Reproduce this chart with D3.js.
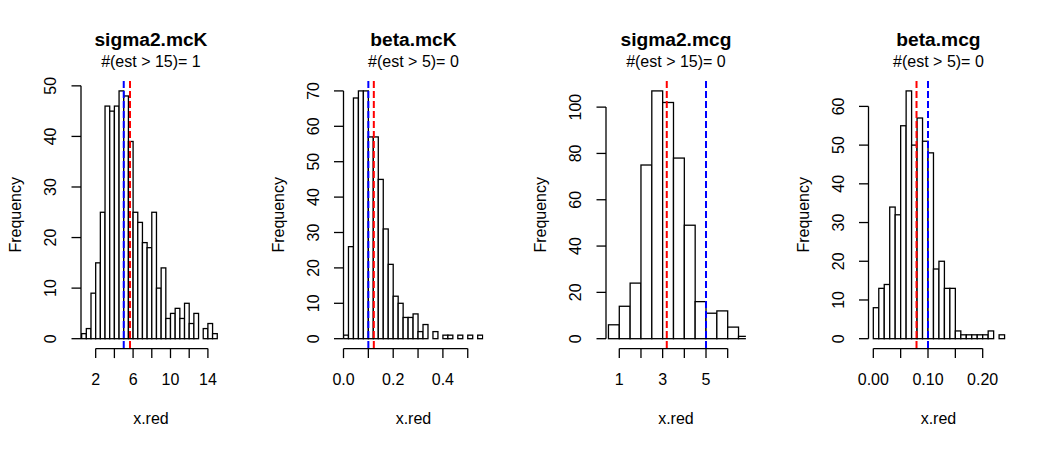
<!DOCTYPE html>
<html>
<head>
<meta charset="utf-8">
<script src="https://cdn.jsdelivr.net/npm/d3@7"></script>
<style>
  body { margin: 0; background: #fff; }
  text { font-family: "Liberation Sans", Arial, sans-serif; fill: #000; }
</style>
</head>
<body>
<div id="chart"></div>
<script>
// panel titles and the "#(est > k)= n" notes
var titles = ["sigma2.mcK", "beta.mcK", "sigma2.mcg", "beta.mcg"];
var cutoffs = [15, 5, 15, 5];
var overCutoff = [1, 0, 0, 0];

// histogram bins: first break, bin width, counts
var binStarts = [0.5, 0, 0.5, 0];
var binWidths = [0.5, 0.02, 0.5, 0.01];
var countsSigma2McK = [1, 2, 9, 15, 25, 46, 45, 46, 49, 48, 39, 25, 23, 19, 18, 25, 10, 14, 4, 5, 6, 4, 7, 3, 5, 0, 2, 3, 1];
var countsBetaMcK = [1, 26, 68, 70, 70, 57, 57, 45, 31, 21, 12, 10, 6, 6, 7, 2, 4, 0, 2, 0, 1, 1, 0, 1, 0, 1, 0, 1];
var countsSigma2Mcg = [6, 14, 24, 75, 107, 102, 78, 49, 16, 11, 12, 5, 1];
var countsBetaMcg = [8, 13, 14, 34, 32, 55, 64, 50, 57, 51, 48, 18, 20, 13, 13, 2, 1, 1, 1, 1, 1, 2, 0, 1];
var allCounts = [countsSigma2McK, countsBetaMcK, countsSigma2Mcg, countsBetaMcg];

// reference lines: blue = true value, red = mean estimate
var trueValues = [5, 0.1, 5, 0.1];
var meanValues = [5.67, 0.122, 3.19, 0.079];

// axes
var xTicks = [
  [2, 4, 6, 8, 10, 12, 14],
  [0, 0.1, 0.2, 0.3, 0.4, 0.5],
  [1, 2, 3, 4, 5, 6],
  [0, 0.05, 0.1, 0.15, 0.2]
];
var xTickLabels = [
  ["2", "6", "10", "14"],
  ["0.0", "0.2", "0.4"],
  ["1", "3", "5"],
  ["0.00", "0.10", "0.20"]
];
var xLabelAt = [
  [2, 6, 10, 14],
  [0, 0.2, 0.4],
  [1, 3, 5],
  [0, 0.1, 0.2]
];
var yTicks = [
  [0, 10, 20, 30, 40, 50],
  [0, 10, 20, 30, 40, 50, 60, 70],
  [0, 20, 40, 60, 80, 100],
  [0, 10, 20, 30, 40, 50, 60]
];
// user x limits of each plot region
var xLims = [[0.43, 15.39], [0.0, 0.563], [0.387, 6.84], [-0.0088, 0.247]];

var W = 1050, H = 450;
var panelW = W / 4,
    plotOff = 81, plotW = 139.9,
    plotTop = 81, plotBottom = 348.6,
    tickLen = 9.5;

var svg = d3.select("#chart").append("svg")
    .attr("width", W)
    .attr("height", H);

var defs = svg.append("defs");

titles.forEach(function(title, i) {
    var left = i * panelW + plotOff,
        right = left + plotW,
        cx = (left + right) / 2,
        counts = allCounts[i],
        maxC = d3.max(counts);

    var x = d3.scaleLinear().domain(xLims[i]).range([left, right]);
    var y = d3.scaleLinear().domain([-0.04 * maxC, 1.04 * maxC]).range([plotBottom, plotTop]);

    defs.append("clipPath")
        .attr("id", "clip" + i)
        .append("rect")
        .attr("x", left)
        .attr("y", plotTop)
        .attr("width", plotW)
        .attr("height", plotBottom - plotTop);

    var g = svg.append("g");

    var bins = counts.map(function(c, k) {
        return {x0: binStarts[i] + k * binWidths[i], x1: binStarts[i] + (k + 1) * binWidths[i], n: c};
    });

    g.append("g")
        .attr("clip-path", "url(#clip" + i + ")")
        .selectAll("rect")
        .data(bins)
        .enter().append("rect")
        .attr("x", function(d) { return x(d.x0); })
        .attr("y", function(d) { return y(d.n); })
        .attr("width", function(d) { return x(d.x1) - x(d.x0); })
        .attr("height", function(d) { return y(0) - y(d.n); })
        .style("fill", "#fff")
        .style("stroke", "#000")
        .style("stroke-width", 1.3);

    // dashed reference lines
    [[trueValues[i], "#0000ff"], [meanValues[i], "#ff0000"]].forEach(function(v) {
        g.append("line")
            .attr("x1", x(v[0])).attr("x2", x(v[0]))
            .attr("y1", plotTop).attr("y2", plotBottom)
            .style("stroke", v[1])
            .style("stroke-width", 2)
            .style("stroke-dasharray", "7,3");
    });

    // x axis
    var xt = xTicks[i];
    var xa = g.append("g").style("stroke", "#000").style("stroke-width", 1.3);
    xa.append("line")
        .attr("x1", x(xt[0])).attr("x2", x(xt[xt.length - 1]))
        .attr("y1", plotBottom).attr("y2", plotBottom);
    xa.selectAll(".xt").data(xt).enter().append("line")
        .attr("x1", function(d) { return x(d); })
        .attr("x2", function(d) { return x(d); })
        .attr("y1", plotBottom).attr("y2", plotBottom + tickLen);
    g.selectAll(".xl").data(xLabelAt[i]).enter().append("text")
        .attr("x", function(d) { return x(d); })
        .attr("y", plotBottom + 36)
        .attr("text-anchor", "middle")
        .style("font-size", "16px")
        .text(function(d, k) { return xTickLabels[i][k]; });

    // y axis
    var yt = yTicks[i];
    var ya = g.append("g").style("stroke", "#000").style("stroke-width", 1.3);
    ya.append("line")
        .attr("x1", left).attr("x2", left)
        .attr("y1", y(yt[0])).attr("y2", y(yt[yt.length - 1]));
    ya.selectAll(".yt").data(yt).enter().append("line")
        .attr("x1", left).attr("x2", left - tickLen)
        .attr("y1", function(d) { return y(d); })
        .attr("y2", function(d) { return y(d); });
    g.selectAll(".yl").data(yt).enter().append("text")
        .attr("transform", function(d) { return "translate(" + (left - 25) + "," + y(d) + ") rotate(-90)"; })
        .attr("text-anchor", "middle")
        .style("font-size", "16px")
        .text(function(d) { return d; });

    // axis titles
    g.append("text")
        .attr("x", cx)
        .attr("y", plotBottom + 75)
        .attr("text-anchor", "middle")
        .style("font-size", "16px")
        .text("x.red");
    g.append("text")
        .attr("transform", "translate(" + (i * panelW + 21) + "," + ((plotTop + plotBottom) / 2) + ") rotate(-90)")
        .attr("text-anchor", "middle")
        .style("font-size", "16px")
        .text("Frequency");

    // main title and note
    g.append("text")
        .attr("x", cx)
        .attr("y", 46)
        .attr("text-anchor", "middle")
        .style("font-size", "19.2px")
        .style("font-weight", "bold")
        .text(title);

    g.append("text")
        .attr("x", cx)
        .attr("y", 67)
        .attr("text-anchor", "middle")
        .style("font-size", "16px")
        .text("#(est > " + cutoffs[i] + ")= " + overCutoff[i]);
});
</script>
</body>
</html>
